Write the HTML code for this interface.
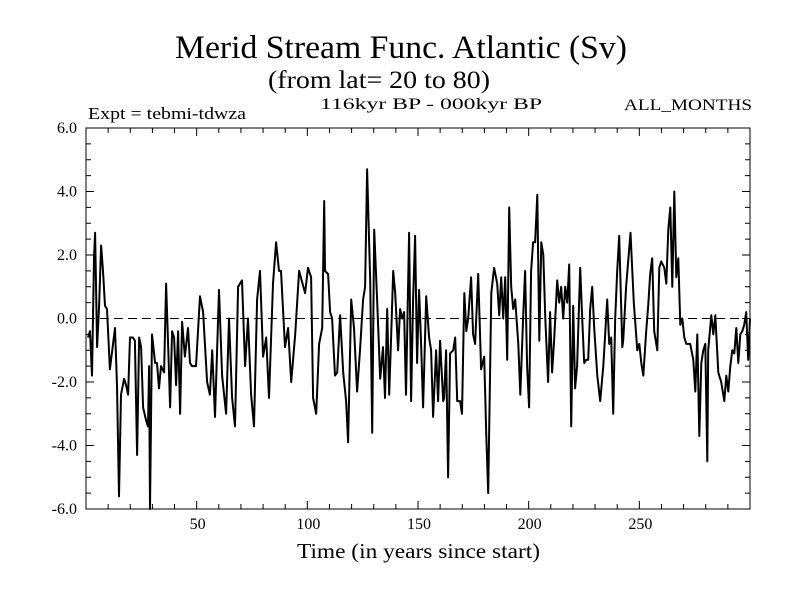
<!DOCTYPE html>
<html><head><meta charset="utf-8"><style>
body{margin:0;background:#fff;}
svg text{font-family:"Liberation Serif",serif;fill:#000;}
</style></head><body>
<svg id="chart" width="800" height="600" xmlns="http://www.w3.org/2000/svg">
<text x="175" y="58" font-size="33" textLength="452" lengthAdjust="spacingAndGlyphs">Merid Stream Func. Atlantic (Sv)</text>
<text x="268" y="88" font-size="25" textLength="222" lengthAdjust="spacingAndGlyphs">(from lat= 20 to 80)</text>
<text x="88" y="119" font-size="17" textLength="158" lengthAdjust="spacingAndGlyphs">Expt = tebmi-tdwza</text>
<text x="320" y="109" font-size="16" textLength="222" lengthAdjust="spacingAndGlyphs">116kyr BP - 000kyr BP</text>
<text x="624" y="110" font-size="16" textLength="128" lengthAdjust="spacingAndGlyphs">ALL_MONTHS</text>
<text x="297" y="558" font-size="21" textLength="243" lengthAdjust="spacingAndGlyphs">Time (in years since start)</text>
<g id="axes"></g>
<g id="plot"></g>
</svg>
<script>
const years=[0.9,1.8,2.7,3.6,4.1,5.0,5.9,6.8,7.7,8.6,9.5,10.8,13.1,14.0,14.9,15.8,17.2,18.1,19.0,19.9,21.2,22.1,23.1,24.0,24.9,25.8,27.1,28.0,28.5,28.9,29.8,31.2,32.1,33.0,33.9,35.3,36.2,37.1,38.0,38.9,39.8,40.7,41.6,42.5,43.4,44.7,46.1,47.0,47.9,49.7,51.5,52.9,54.7,56.0,57.0,58.3,60.1,61.5,63.3,64.6,66.0,67.3,68.7,70.5,71.9,73.2,74.6,75.9,77.3,78.6,80.0,81.4,82.7,84.5,85.9,87.2,88.1,89.9,91.3,92.7,94.5,96.3,99.0,100.3,101.7,102.6,104.0,105.3,106.7,107.6,108.0,109.4,110.3,111.2,112.5,113.5,114.8,116.2,117.5,118.4,119.8,121.1,122.5,123.8,125.2,126.1,127.0,128.4,129.3,130.2,131.5,132.9,134.2,135.1,136.1,137.0,137.9,138.8,139.7,141.0,141.9,142.8,143.7,144.6,146.0,146.9,147.8,148.7,149.6,150.5,151.4,152.3,153.7,155.0,155.9,156.8,158.2,159.1,160.0,161.4,161.8,162.7,163.6,164.5,165.9,166.8,167.7,169.0,169.9,170.9,171.8,172.7,174.0,174.9,175.8,177.2,178.5,179.9,180.8,181.7,183.1,184.4,185.8,186.7,187.6,188.5,189.4,190.3,191.2,192.1,193.0,193.9,195.3,196.2,197.5,198.4,199.3,200.2,201.1,202.0,202.9,203.9,204.8,205.7,206.6,207.5,208.8,209.7,210.6,211.5,212.9,213.8,214.7,215.6,216.5,217.4,218.3,219.2,220.1,221.0,221.9,223.3,224.2,225.1,226.0,226.9,227.8,228.7,229.6,231.0,232.3,233.7,235.5,236.4,237.3,238.2,239.1,240.0,240.9,242.3,242.7,244.0,246.0,247.5,249.1,250.0,250.9,251.8,253.1,254.0,254.9,255.8,256.7,258.1,259.0,259.9,261.3,262.2,263.1,264.0,264.9,265.8,266.7,267.6,268.5,269.4,270.3,271.2,273.0,274.4,275.3,276.2,277.1,278.0,278.9,279.8,280.7,281.1,282.5,283.4,284.3,285.7,287.0,288.4,289.3,290.2,291.1,292.0,292.9,293.8,294.7,295.6,296.5,297.4,298.3,299.2,300];
const values=[-0.6,-0.4,-1.8,1.9,2.7,-0.9,0.4,2.3,1.5,0.4,0.3,-1.6,-0.3,-2.1,-5.6,-2.4,-1.9,-2.1,-2.4,-0.6,-0.6,-0.7,-4.3,-0.6,-0.9,-2.8,-3.2,-3.4,-1.5,-6.0,-0.5,-1.4,-1.4,-2.2,-1.5,-1.7,1.1,-0.8,-2.8,-0.4,-0.6,-2.1,-0.4,-3.0,-0.1,-1.2,-0.3,-1.4,-1.5,-1.5,0.7,0.2,-2.0,-2.4,-1.0,-3.1,0.9,-1.8,-3.0,0.0,-2.5,-3.4,1.0,1.2,-1.5,0.0,-2.4,-3.4,0.6,1.5,-1.2,-0.6,-2.5,1.1,2.4,1.5,1.5,-0.9,-0.3,-2.0,-0.5,1.5,0.8,1.6,1.3,-2.5,-3.0,-0.8,-0.3,3.7,1.5,1.4,0.2,0.0,-1.8,-1.7,0.1,-1.7,-2.6,-3.9,0.6,-0.3,-2.3,-1.0,0.6,1.0,4.7,1.2,-3.6,2.8,0.6,-1.9,-0.9,-2.5,0.3,-2.4,-0.5,1.5,0.8,-1.0,0.3,0.0,0.2,-2.4,2.7,-2.6,0.6,2.6,-1.4,0.9,-0.8,-2.8,0.7,-0.6,-1.0,-3.1,-1.0,-2.6,-0.7,-2.6,-2.5,-1.0,-5.0,-1.1,-1.0,-0.6,-2.6,-2.6,-3.0,0.8,-0.4,0.0,1.3,-0.5,-0.8,1.4,-1.6,-1.2,-3.6,-5.5,0.8,1.6,1.1,0.1,1.3,0.0,1.3,-1.3,3.5,1.0,0.3,0.6,-0.8,-2.4,0.0,1.5,-1.5,-2.8,1.5,2.4,2.4,3.9,-0.7,2.4,2.0,0.0,-2.0,0.2,-1.7,-0.7,1.2,0.5,1.0,0.0,1.0,0.5,1.7,-3.4,0.4,-2.2,-1.5,1.6,0.0,-1.4,-1.3,-1.3,0.3,1.0,-0.3,-1.8,-2.6,-1.5,0.6,-0.8,-0.6,-3.0,0.0,1.5,2.6,-0.9,-0.7,1.0,2.7,0.5,-1.0,-0.8,-1.4,-1.8,-0.4,0.4,1.4,1.9,-0.4,-1.0,1.6,1.8,1.6,1.1,2.8,3.5,1.0,4.0,1.3,1.9,-0.2,0.0,-0.6,-0.8,-0.8,-1.3,-2.3,-0.5,-3.7,-1.4,-1.0,-0.8,-4.5,-1.0,0.1,-0.5,0.1,-1.7,-2.0,-2.6,-1.8,-2.3,-1.5,-1.0,-1.1,-0.3,-1.4,-0.5,-0.4,-0.2,0.2,-1.3,0.0];
const yTickValues=[-6,-4,-2,0,2,4,6];
const yTickLabels=["-6.0","-4.0","-2.0","0.0","2.0","4.0","6.0"];
const xTickValues=[50,100,150,200,250];
const xTickLabels=["50","100","150","200","250"];

const L=86,R=750,T=128,B=509;
const X0=0,X1=300,Y0=-6,Y1=6;
function sx(v){return L+(v-X0)/(X1-X0)*(R-L);}
function sy(v){return B-(v-Y0)/(Y1-Y0)*(B-T);}
const NS="http://www.w3.org/2000/svg";
const axes=document.getElementById('axes'),plot=document.getElementById('plot');
function mk(tag,attrs,parent){const e=document.createElementNS(NS,tag);for(const k in attrs)e.setAttribute(k,attrs[k]);parent.appendChild(e);return e;}

const frame=mk('rect',{x:L,y:T,width:R-L,height:B-T,fill:'none',stroke:'#000','stroke-width':1},axes);


for(let v=10;v<300;v+=10){const len=(v%50===0)?8:5;
 const t1=mk('line',{x1:sx(v),x2:sx(v),y1:B,y2:B-len,stroke:'#000'},axes);
 
 
 const t2=mk('line',{x1:sx(v),x2:sx(v),y1:T,y2:T+len,stroke:'#000'},axes);
 
 }
for(let v=-5.5;v<6;v+=0.5){const len=(Math.abs(v%2)<1e-9)?8:5;
 const t1=mk('line',{x1:L,x2:L+len,y1:sy(v),y2:sy(v),stroke:'#000'},axes);
 
 
 const t2=mk('line',{x1:R,x2:R-len,y1:sy(v),y2:sy(v),stroke:'#000'},axes);
 
 }
yTickValues.forEach((v,i)=>{const t=mk('text',{x:77,y:sy(v)+5,'font-size':16,'text-anchor':'end'},axes);t.textContent=yTickLabels[i];
 
 });
xTickValues.forEach((v,i)=>{const t=mk('text',{x:sx(v)+1,y:529,'font-size':16,'text-anchor':'middle'},axes);t.textContent=xTickLabels[i];
 
 });
const zl=mk('line',{x1:L,x2:R,y1:sy(0),y2:sy(0),stroke:'#000','stroke-dasharray':'9,5'},plot);


const d=years.map((y,i)=>(i?'L':'M')+sx(y).toFixed(1)+','+sy(values[i]).toFixed(1)).join('');
const p=mk('path',{d:d,fill:'none',stroke:'#000','stroke-width':2,'stroke-linejoin':'round'},plot);


</script>
</body></html>
